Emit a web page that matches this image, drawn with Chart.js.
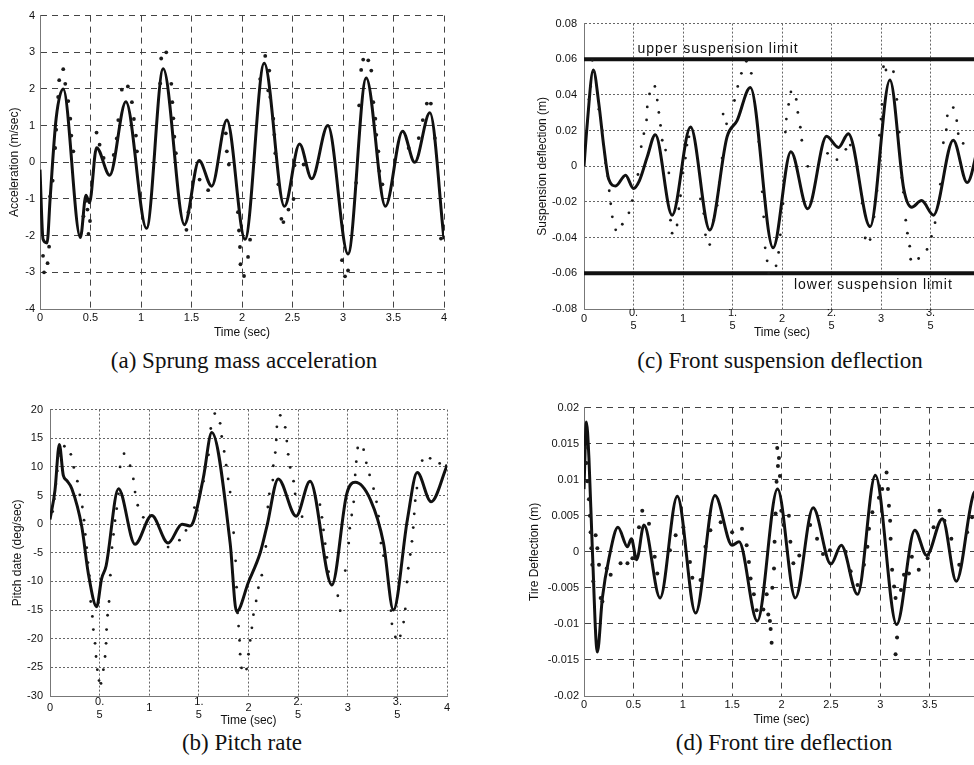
<!DOCTYPE html>
<html>
<head>
<meta charset="utf-8">
<script src="https://cdn.jsdelivr.net/npm/chart.js@4.4.1/dist/chart.umd.min.js"></script>
<style>
  body { margin: 0; background: #fff; width: 974px; height: 765px; overflow: hidden; position: relative; }
  canvas { position: absolute; }
  .cap { position: absolute; font-family: "Liberation Serif", "Times New Roman", serif; font-size: 23px;
         line-height: 23px; height: 23px; white-space: nowrap; transform: translateX(-50%); color: #111; }
</style>
</head>
<body>
<canvas id="graficoA" width="454" height="336" style="left:0;top:4px"></canvas>
<canvas id="graficoB" width="457" height="332" style="left:0;top:396px"></canvas>
<canvas id="graficoC" width="503" height="330" style="left:487px;top:10px"></canvas>
<canvas id="graficoD" width="502" height="331" style="left:487px;top:396px"></canvas>
<div class="cap" style="left:244px;top:349px">(a) Sprung mass acceleration</div>
<div class="cap" style="left:780px;top:349px">(c) Front suspension deflection</div>
<div class="cap" style="left:242px;top:731px">(b) Pitch rate</div>
<div class="cap" style="left:784px;top:731px">(d) Front tire deflection</div>
<script>
// Etiquetas del eje de tiempo
const etiquetasX = ['0', '0.5', '1', '1.5', '2', '2.5', '3', '3.5', '4'];
const etiquetasXPartidas = ['0', ['0.', '5'], '1', ['1.', '5'], '2', ['2.', '5'], '3', ['3.', '5'], '4'];

// (a) aceleración: curva continua [t, valor] y puntos
const aceLinea = [[0,-0.2],[0.03,-2.1],[0.07,-2.2],[0.10,-1.0],[0.16,1.2],[0.23,2.0],[0.40,-2.05],[0.455,-0.9],[0.49,-1.1],
  [0.56,0.4],[0.69,-0.35],[0.85,1.65],[1.055,-1.8],[1.22,2.55],[1.43,-1.7],[1.575,0.05],[1.70,-0.65],[1.85,1.15],
  [2.03,-2.1],[2.22,2.7],[2.42,-1.2],[2.57,0.5],[2.69,-0.45],[2.85,1.0],[3.05,-2.5],[3.23,2.3],[3.42,-1.2],[3.59,0.85],
  [3.71,0.0],[3.86,1.35],[4.0,-2.1]];
const acePuntos = [[0.03,-2.55],[0.04,-3.0],[0.075,-2.75],[0.09,-2.3],[0.10,-0.93],[0.125,-0.5],[0.15,0.39],[0.16,0.89],
  [0.18,1.78],[0.19,2.24],[0.23,2.54],[0.25,2.14],[0.28,1.67],[0.30,1.19],[0.31,0.73],[0.33,0.3],[0.43,-1.47],[0.455,-1.05],
  [0.47,-1.29],[0.48,-1.95],[0.495,-1.6],[0.56,0.81],[0.59,0.48],[0.63,0.12],[0.73,0.2],[0.76,0.65],[0.775,1.15],[0.81,1.98],
  [0.87,2.07],[0.91,1.64],[0.93,1.18],[0.95,0.73],[0.96,0.3],[1.19,2.15],[1.20,2.83],[1.25,3.0],[1.30,2.14],[1.31,1.64],
  [1.32,1.2],[1.33,0.7],[1.345,0.25],[1.45,-1.84],[1.47,-1.36],[1.50,-0.96],[1.58,-0.47],[1.665,-0.76],[1.84,0.79],[1.85,0.3],
  [1.87,-0.06],[1.96,-1.36],[1.97,-1.86],[1.98,-2.31],[1.985,-2.78],[2.02,-3.1],[2.06,-2.58],[2.08,-2.11],[2.18,2.27],
  [2.23,2.9],[2.26,1.96],[2.27,2.5],[2.28,1.78],[2.31,1.19],[2.32,0.75],[2.33,0.25],[2.36,-0.6],[2.39,-1.54],[2.41,-1.63],
  [2.46,-1.29],[2.51,-1.0],[2.52,-0.08],[2.61,-0.06],[2.99,-2.67],[3.02,-3.11],[3.05,-2.95],[3.13,-0.56],[3.16,1.55],
  [3.18,2.52],[3.20,2.8],[3.25,2.78],[3.28,2.5],[3.30,1.64],[3.32,1.19],[3.33,0.75],[3.35,0.3],[3.36,-0.24],[3.39,-0.6],
  [3.65,0.39],[3.75,0.66],[3.79,1.15],[3.83,1.6],[3.87,1.6],[3.91,0.66],[3.97,-2.08]];

// (b) velocidad de cabeceo
const cabLinea = [[0,0.8],[0.05,5.9],[0.094,13.9],[0.134,8.5],[0.17,7.6],[0.22,6.2],[0.32,-0.4],[0.387,-8.7],[0.47,-14.4],
  [0.52,-9.5],[0.565,-7.3],[0.69,6.2],[0.857,-3.5],[1.025,1.5],[1.19,-3.3],[1.33,0],[1.41,-0.3],[1.445,0.46],[1.546,8.2],
  [1.63,16.0],[1.815,-3.3],[1.88,-15.3],[2.0,-10.1],[2.118,-5.0],[2.185,-0.4],[2.3,7.9],[2.48,1.4],[2.62,7.5],[2.84,-10.6],
  [2.99,5.3],[3.075,7.3],[3.23,4.2],[3.36,-3.3],[3.46,-15],[3.6,0.7],[3.70,9.0],[3.84,3.9],[4.0,10.2]];
const cabPuntos = [[0.027,2.2],[0.044,4.4],[0.06,7.0],[0.074,9.3],[0.084,11.9],[0.145,13.6],[0.21,12.2],[0.24,9.9],
  [0.276,7.5],[0.3,5.1],[0.326,3.0],[0.343,0.7],[0.356,-1.8],[0.37,-4.1],[0.383,-6.7],[0.397,-9.0],[0.41,-13.5],
  [0.427,-16.1],[0.437,-18.4],[0.454,-20.8],[0.464,-23.1],[0.477,-25.4],[0.494,-27.3],[0.514,-27.8],[0.538,-25.4],
  [0.555,-23.1],[0.565,-20.8],[0.57,-18.4],[0.58,-15.9],[0.595,-13.5],[0.608,-8.9],[0.625,-4.1],[0.64,-1.8],[0.655,0.6],
  [0.672,2.7],[0.69,5.3],[0.706,10.0],[0.746,12.3],[0.807,10.2],[0.84,7.9],[0.857,5.6],[0.884,3.3],[0.94,1.2],[1.19,-4.0],
  [1.304,-2.8],[1.37,-1.1],[1.455,2.9],[1.51,5.3],[1.546,7.5],[1.563,9.9],[1.597,12.1],[1.62,16.7],[1.66,19.3],[1.714,17.6],
  [1.73,15.3],[1.755,12.7],[1.775,10.3],[1.795,7.9],[1.815,5.6],[1.85,-1.5],[1.87,-6.4],[1.88,-11.0],[1.89,-15.5],[1.9,-17.8],
  [1.91,-20.3],[1.916,-22.7],[1.93,-25.1],[1.98,-25.3],[2.0,-22.7],[2.017,-20.3],[2.034,-18.1],[2.05,-15.8],[2.077,-13.4],
  [2.1,-11.1],[2.134,-8.9],[2.175,-3.9],[2.195,3.0],[2.21,5.3],[2.245,7.7],[2.25,10.2],[2.27,12.5],[2.28,14.7],[2.286,17.0],
  [2.32,19.0],[2.37,16.9],[2.386,14.5],[2.4,12.2],[2.42,9.9],[2.454,7.5],[2.47,5.3],[2.54,1.3],[2.72,3.4],[2.74,1.2],
  [2.756,-1.0],[2.773,-3.4],[2.79,-5.8],[2.807,-8.3],[2.9,-12.5],[2.924,-15.1],[2.975,-8.1],[3.01,-3.3],[3.02,-0.7],
  [3.04,1.6],[3.06,3.9],[3.075,8.6],[3.086,10.9],[3.1,13.3],[3.16,13.0],[3.187,10.7],[3.22,8.6],[3.26,6.2],[3.29,3.9],
  [3.31,1.4],[3.334,-3.3],[3.36,-5.5],[3.435,-15.1],[3.445,-17.4],[3.48,-19.7],[3.53,-19.5],[3.563,-17.1],[3.58,-14.8],
  [3.597,-10.1],[3.61,-7.7],[3.63,-5.3],[3.647,-3.0],[3.66,-0.6],[3.67,1.8],[3.68,4.1],[3.697,6.3],[3.75,11.1],[3.83,11.5],
  [3.926,10.6],[3.993,10.2]];

// (c) deflexión de suspensión
const susLinea = [[0,0],[0.03,0.022],[0.094,0.054],[0.15,0.035],[0.2,0.011],[0.25,-0.0073],[0.32,-0.011],[0.42,-0.005],
  [0.50,-0.0124],[0.56,-0.008],[0.64,0.0055],[0.72,0.0177],[0.89,-0.0274],[1.076,0.022],[1.27,-0.0357],[1.445,0.0165],
  [1.546,0.0256],[1.68,0.0442],[1.91,-0.0457],[2.09,0.0082],[2.26,-0.0238],[2.45,0.0168],[2.57,0.0106],[2.67,0.0183],
  [2.89,-0.0338],[3.09,0.0484],[3.23,-0.0128],[3.31,-0.0229],[3.41,-0.0192],[3.53,-0.0274],[3.73,0.0146],[3.87,-0.0091],
  [4.0,0.016]];
const susPuntos = [[0.05,0.0375],[0.067,0.0448],[0.084,0.0594],[0.1,0.053],[0.15,0.032],[0.185,0.020],[0.218,0.0018],
  [0.24,-0.0055],[0.255,-0.0137],[0.27,-0.021],[0.286,-0.0283],[0.32,-0.0356],[0.387,-0.0325],[0.454,-0.0261],
  [0.487,-0.0192],[0.545,-0.0046],[0.578,0.011],[0.605,0.0183],[0.632,0.026],[0.639,0.0333],[0.662,0.0406],[0.716,0.0448],
  [0.74,0.0371],[0.756,0.0302],[0.773,0.0229],[0.79,0.0146],[0.824,0.0091],[0.857,-0.0037],[0.874,-0.0302],[0.89,-0.0375],
  [0.94,-0.0329],[0.958,-0.0238],[0.975,-0.0165],[1.0,-0.0037],[1.025,0.0046],[1.04,0.0119],[1.06,0.0165],[1.176,-0.0183],
  [1.21,-0.0265],[1.227,-0.0384],[1.27,-0.0439],[1.31,-0.0302],[1.345,-0.0219],[1.368,-0.0091],[1.395,0.0046],
  [1.405,0.0293],[1.44,0.0238],[1.52,0.0369],[1.553,0.0448],[1.59,0.0521],[1.64,0.0589],[1.69,0.0521],[1.765,0.0137],
  [1.8,-0.0143],[1.815,-0.0283],[1.83,-0.0457],[1.85,-0.053],[1.866,-0.06],[1.94,-0.0558],[1.966,-0.0483],[1.983,-0.0384],
  [2.01,-0.021],[2.02,-0.0082],[2.034,0.0192],[2.044,0.0265],[2.067,0.0347],[2.09,0.0417],[2.144,0.0375],[2.16,0.0302],
  [2.185,0.0219],[2.2,0.0146],[2.26,0.0],[2.46,0.0073],[2.555,0.0037],[2.645,0.0095],[2.69,0.0119],[2.81,-0.0207],
  [2.84,-0.0402],[2.89,-0.0411],[2.93,-0.0283],[2.96,-0.0137],[2.985,0.0174],[3.0,0.0265],[3.01,0.0347],[3.025,0.0558],
  [3.05,0.054],[3.126,0.053],[3.16,0.0375],[3.186,0.0192],[3.21,-0.0064],[3.227,-0.0146],[3.25,-0.0302],[3.267,-0.0375],
  [3.29,-0.0448],[3.3,-0.0521],[3.38,-0.0517],[3.465,-0.0466],[3.51,-0.0393],[3.546,-0.0316],[3.6,-0.01],[3.63,0.0132],
  [3.66,0.0205],[3.67,0.0283],[3.73,0.0329],[3.765,0.0256],[3.78,0.0183],[3.83,0.0128]];
const limiteT = [0, 4];
const limiteSup = [0.06, 0.06];
const limiteInf = [-0.06, -0.06];
const textosLimite = ['upper suspension limit', 'lower suspension limit'];

// (d) deflexión de neumático
const neuLinea = [[0,0.0087],[0.024,0.018],[0.05,0.013],[0.084,0.0005],[0.135,-0.0139],[0.186,-0.0064],[0.253,-0.0009],
  [0.344,0.0034],[0.44,0.0007],[0.48,0.0018],[0.533,-0.0011],[0.607,0.0037],[0.77,-0.0064],[0.945,0.0077],[1.13,-0.0085],
  [1.326,0.0078],[1.50,0.0009],[1.57,0.0014],[1.755,-0.0096],[1.96,0.0087],[2.14,-0.0064],[2.32,0.0061],[2.5,-0.0017],
  [2.605,0.0009],[2.77,-0.0059],[2.95,0.0106],[3.166,-0.0101],[3.35,0.003],[3.47,-0.0005],[3.63,0.0046],[3.77,-0.0041],
  [3.95,0.0082],[4.0,0.0086]];
const neuPuntos = [[0.007,0.0144],[0.024,0.0123],[0.034,0.0098],[0.05,0.0073],[0.06,0.005],[0.067,0.0027],[0.074,0.0005],
  [0.084,-0.0018],[0.094,-0.0041],[0.118,0.0023],[0.135,0.0005],[0.152,-0.0018],[0.169,-0.0064],[0.186,-0.0069],
  [0.23,-0.0023],[0.27,-0.0032],[0.37,-0.0016],[0.44,-0.0016],[0.49,-0.0009],[0.51,-0.0009],[0.557,0.0034],[0.59,0.0057],
  [0.658,0.0039],[0.716,-0.0007],[0.742,-0.003],[0.87,0.0002],[0.928,0.0023],[1.006,0.0034],[1.073,-0.0014],[1.097,-0.0036],
  [1.18,-0.0039],[1.23,0.0007],[1.28,0.003],[1.384,0.0041],[1.5,0.0027],[1.6,0.0032],[1.647,0.0009],[1.67,-0.0014],
  [1.687,-0.0037],[1.72,-0.0059],[1.748,-0.0081],[1.816,-0.008],[1.85,-0.0059],[1.866,-0.0087],[1.883,-0.0096],
  [1.89,-0.0107],[1.9,-0.0126],[1.907,-0.005],[1.924,-0.0023],[1.93,0.0014],[1.94,0.0053],[1.95,0.0097],[1.957,0.0144],
  [1.964,0.0119],[1.974,0.013],[1.984,0.0105],[1.998,0.0057],[2.02,0.0037],[2.075,0.005],[2.09,0.0014],[2.12,-0.0016],
  [2.18,-0.0005],[2.29,0.0037],[2.36,0.0018],[2.42,-0.0003],[2.49,0.0002],[2.65,0.0],[2.7,-0.0027],[2.77,-0.0046],
  [2.835,-0.0018],[2.87,0.0007],[2.886,0.0032],[2.92,0.0055],[2.987,0.0075],[3.02,0.0087],[3.064,0.011],[3.078,0.0087],
  [3.088,0.0064],[3.1,0.0043],[3.105,0.0018],[3.12,-0.0025],[3.14,-0.0048],[3.155,-0.0064],[3.17,-0.0119],[3.155,-0.0142],
  [3.21,-0.0053],[3.24,-0.0032],[3.29,-0.003],[3.32,-0.0007],[3.39,-0.0025],[3.48,-0.0009],[3.54,0.0034],[3.6,0.0057],
  [3.65,0.0043],[3.72,0.0018],[3.8,-0.0018],[3.88,0.0027],[3.93,0.0048]];

const fuente = '"Liberation Sans", Arial, sans-serif';

function pares(lista) {
  return lista.map(p => ({ x: p[0], y: p[1] }));
}

function etiquetaY(v) {
  return String(parseFloat(v.toFixed(4)));
}

function serieLinea(lista) {
  return { data: pares(lista), borderColor: '#111', borderWidth: 3, pointRadius: 0,
           cubicInterpolationMode: 'monotone', fill: false };
}

function seriePuntos(lista, radio) {
  return { data: pares(lista), showLine: false, pointRadius: radio, pointBorderWidth: 0,
           pointBackgroundColor: '#1a1a1a', borderColor: '#1a1a1a' };
}

// Texto de los límites de suspensión
const textoLimites = {
  id: 'textoLimites',
  afterDatasetsDraw(chart) {
    const { ctx, scales: { x, y } } = chart;
    ctx.save();
    ctx.font = '14px ' + fuente;
    if ('letterSpacing' in ctx) ctx.letterSpacing = '1px';
    ctx.fillStyle = '#111';
    ctx.textAlign = 'left';
    ctx.textBaseline = 'bottom';
    ctx.fillText(textosLimite[0], x.getPixelForValue(0.54), y.getPixelForValue(limiteSup[0]) - 3);
    ctx.textBaseline = 'top';
    ctx.fillText(textosLimite[1], x.getPixelForValue(2.12), y.getPixelForValue(limiteInf[0]) + 5);
    ctx.restore();
  }
};

function crearGrafico(id, c) {
  const ctx = document.getElementById(id).getContext('2d');
  const etiquetas = c.partida ? etiquetasXPartidas : etiquetasX;
  return new Chart(ctx, {
    type: 'line',
    data: { datasets: c.series },
    plugins: c.plugins || [],
    options: {
      responsive: false,
      animation: false,
      events: [],
      layout: { padding: { top: 8, right: 10, left: 0, bottom: 0 } },
      plugins: { legend: { display: false }, tooltip: { enabled: false } },
      scales: {
        x: {
          type: 'linear', min: 0, max: 4,
          afterFit: s => { s.height = c.altoX; },
          ticks: {
            stepSize: 0.5, autoSkip: false, maxRotation: 0, padding: c.padX,
            crossAlign: c.partida ? 'center' : 'near',
            color: '#111', font: { family: fuente, size: 11, lineHeight: 1.15 },
            callback: (v, i) => etiquetas[i]
          },
          grid: { color: c.colorGrid, drawTicks: false },
          border: { display: true, color: '#777', dash: c.guion },
          title: { display: true, text: 'Time (sec)', color: '#111', padding: 0,
                   font: { family: fuente, size: 12, lineHeight: 1.2 } }
        },
        y: {
          min: c.yMin, max: c.yMax,
          afterFit: s => { s.width = c.anchoY; },
          ticks: {
            stepSize: c.paso, padding: c.padY, color: '#111',
            font: { family: fuente, size: 11 },
            callback: v => etiquetaY(v)
          },
          grid: { color: c.colorGrid, drawTicks: false },
          border: { display: true, color: '#777', dash: c.guion },
          title: { display: true, text: c.tituloY, color: '#111', padding: { top: c.padTitulo, bottom: 0 },
                   font: { family: fuente, size: 12, lineHeight: 1.2 } }
        }
      }
    }
  });
}

crearGrafico('graficoA', {
  series: [seriePuntos(acePuntos, 1.9), serieLinea(aceLinea)],
  yMin: -4, yMax: 4, paso: 1, tituloY: 'Acceleration (m/sec)',
  anchoY: 40, padY: 5, padTitulo: 7, altoX: 31, padX: 3, partida: false,
  colorGrid: '#444', guion: [6, 5]
});

crearGrafico('graficoB', {
  series: [seriePuntos(cabPuntos, 1.4), serieLinea(cabLinea)],
  yMin: -30, yMax: 20, paso: 5, tituloY: 'Pitch date (deg/sec)',
  anchoY: 50, padY: 7, padTitulo: 10, altoX: 32, padX: 6, partida: true,
  colorGrid: '#666', guion: [2, 2]
});

crearGrafico('graficoC', {
  series: [
    seriePuntos(susPuntos, 1.4),
    serieLinea(susLinea),
    { data: limiteT.map((t, i) => ({ x: t, y: limiteSup[i] })), borderColor: '#111', borderWidth: 4, pointRadius: 0 },
    { data: limiteT.map((t, i) => ({ x: t, y: limiteInf[i] })), borderColor: '#111', borderWidth: 4, pointRadius: 0 }
  ],
  plugins: [textoLimites],
  yMin: -0.08, yMax: 0.08, paso: 0.02, tituloY: 'Suspension deflection (m)',
  anchoY: 97, padY: 7, padTitulo: 48, altoX: 31, padX: 4, partida: true,
  colorGrid: '#666', guion: [2, 2]
});

crearGrafico('graficoD', {
  series: [seriePuntos(neuPuntos, 2), serieLinea(neuLinea)],
  yMin: -0.02, yMax: 0.02, paso: 0.005, tituloY: 'Tire Deflection (m)',
  anchoY: 97, padY: 5, padTitulo: 40, altoX: 31, padX: 3, partida: false,
  colorGrid: '#444', guion: [6, 5]
});
</script>
</body>
</html>
